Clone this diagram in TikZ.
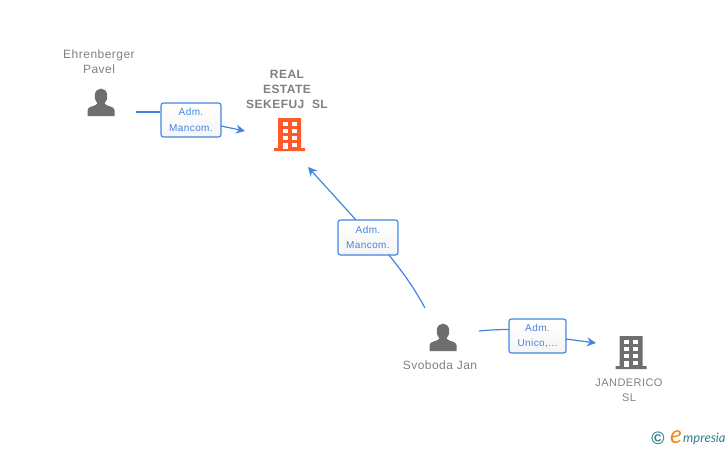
\documentclass[tikz,border=0pt]{standalone}
\usepackage{fontspec}
\setmainfont{Liberation Sans}
\newfontfamily\lblfont[LetterSpace=4]{Liberation Sans}
\newfontfamily\logofont{Lato}
\usetikzlibrary{arrows.meta}
\definecolor{linkblue}{HTML}{4285E0}
\definecolor{txtgray}{HTML}{808080}
\definecolor{icongray}{HTML}{6E6E6E}
\definecolor{firmred}{HTML}{FF5A2B}
\definecolor{logoteal}{HTML}{2F7F8C}
\definecolor{logoorange}{HTML}{F08A1D}
% person icon, centred on (#1,#2)
\newcommand{\personicon}[2]{
\fill[icongray,shift={(#1,#2)}] (-13.5,14) -- (-13.5,8) .. controls (-13.5,4) and (-5,4.5) .. (-3.5,1.5)
 .. controls (-6,-1) and (-6.5,-4) .. (-6.2,-7) .. controls (-5.5,-15.5) and (5.5,-15.5) .. (6.2,-7)
 .. controls (6.5,-4) and (6,-1) .. (3.5,1.5) .. controls (5,4.5) and (13.5,4) .. (13.5,8) -- (13.5,14) -- cycle;
}
% building icon, centred on (#1,#2), colour #3
\newcommand{\firmicon}[3]{
\begin{scope}[shift={(#1,#2)}]
\fill[#3] (-11.5,-17) rectangle (11.5,13) (-15.5,13) rectangle (15.5,16);
\foreach \wy in {-13,-6,1}
 \foreach \wx in {-7,2}
  \fill[white] (\wx,\wy) rectangle +(5,4);
\fill[white] (-7,8) rectangle (-2,13.5);
\fill[white] (2,8) rectangle (7,12);
\end{scope}
}
\begin{document}
\begin{tikzpicture}
[x=1pt,y=-1pt,
relbox/.style ={rectangle, draw=linkblue, line width=1.1pt, top color=white, bottom color=gray!8,
rounded corners=2.5pt, inner sep=0pt, align=center, text=linkblue,
font=\lblfont\fontsize{10}{15.5}\selectfont},
lbl/.style ={text=txtgray, align=center, inner sep=0pt, font=\lblfont\fontsize{12}{15}\selectfont},
firmlbl/.style ={lbl, font=\lblfont\bfseries\fontsize{12}{15}\selectfont},
link/.style ={draw=linkblue, line width=1.2pt},
linkarrow/.style ={link, -{Stealth[length=9pt,width=9pt]}}]

\useasboundingbox (0,0) rectangle (728,450);

\personicon{101}{102}
\personicon{443}{337}
\firmicon{289.5}{135}{firmred}
\firmicon{631}{353}{icongray}

% labels
\node (ehren) [lbl] at (99,62) {Ehrenberger\\Pavel};
\node (real) [firmlbl] at (287,89) {REAL\\ESTATE\\SEKEFUJ\ \ SL};
\node (svoboda) [lbl] at (440,365) {Svoboda Jan};
\node (jande) [lbl, font=\lblfont\fontsize{11}{15}\selectfont] at (629,390) {JANDERICO\\SL};

% relation boxes
\node (admA) [relbox, minimum width=60pt, minimum height=34pt] at (191,120) {Adm.\\Mancom.};
\node (admB) [relbox, minimum width=60pt, minimum height=35pt] at (368,237.5) {Adm.\\Mancom.};
\node (admC) [relbox, minimum width=57pt, minimum height=34pt] at (537.5,336) {Adm.\\Unico,...};

% free ends
\coordinate (ehrenout) at (136,112);
\coordinate (admAout) at (221,126);
\coordinate (realinA) at (245,131);
\coordinate (admBout) at (356,220);
\coordinate (admBin) at (389,255);
\coordinate (realinB) at (308,167);
\coordinate (svobodaoutA) at (425,308);
\coordinate (svobodaoutB) at (479,331);
\coordinate (admCin) at (509,329.5);
\coordinate (admCout) at (566,339);
\coordinate (jandein) at (596,343);

\draw[link] (ehrenout) -- (admA.west |- ehrenout);
\draw[linkarrow] (admAout) -- (realinA);
\draw[linkarrow] (admBout) -- (realinB);
\draw[link] (svobodaoutA) .. controls (412,284) and (400,269) .. (admBin);
\draw[link] (svobodaoutB) .. controls (489,330) and (499,329.5) .. (admCin);
\draw[linkarrow] (admCout) -- (jandein);

% logo
\node (copy) [text=logoteal, inner sep=0pt, font=\bfseries\fontsize{18}{18}\selectfont] at (658,438) {©};
\node (logoe) [text=logoorange, inner sep=0pt, font=\logofont\itshape\fontsize{25}{25}\selectfont] at (676,437.5) {e};
\node (logotxt) [text=logoteal, inner sep=0pt, anchor=west, font=\logofont\itshape\fontsize{13}{13}\selectfont] at (683,439) {mpresia};
\end{tikzpicture}
\end{document}
